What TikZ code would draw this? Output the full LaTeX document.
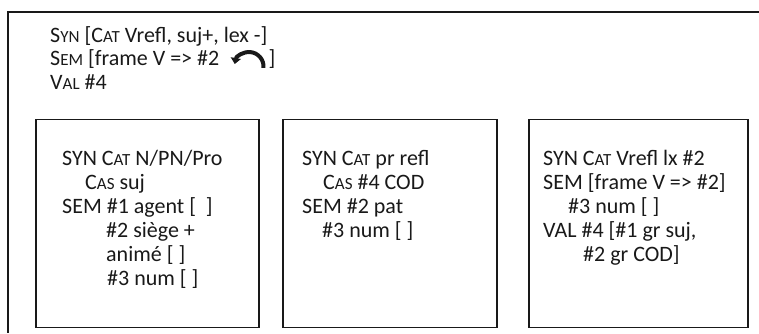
\documentclass[tikz,border=0pt]{standalone}
\usepackage{fontspec}
\setmainfont{Carlito}
\usetikzlibrary{positioning,calc,arrows.meta}
\definecolor{inkgray}{RGB}{25,25,25}

% fake small capitals: first letter full size, the rest smaller
\newcommand{\kap}[2]{#1{\fontsize{17}{24}\selectfont #2}}

\tikzset{
  feat/.style={anchor=base west, align=left, inner sep=0pt,
    font=\fontsize{22}{24}\selectfont, text=inkgray},
  avmbox/.style={draw=inkgray, line width=1.5pt, anchor=south west,
    minimum height=208pt, inner sep=0pt},
}

\begin{document}
\begin{tikzpicture}[x=1pt, y=1pt, >=Stealth]
    \useasboundingbox (0,0) rectangle (759,333);

    % Outer frame (only top and left edges show)
    \draw[inkgray, line width=2.5pt, line join=miter] (759,321) -- (8,321) -- (8,0);

    % Construction head
    \node[feat] (syn) at (50,291) {\kap{S}{YN} [\kap{C}{AT} Vrefl, suj+, lex -]};
    \node[feat] (sem) at (50,267.5) {\kap{S}{EM} [frame V => \#2};
    \node[feat] (val) at (50,244) {\kap{V}{AL} \#4};

    % Curved arrow and closing bracket
    \coordinate (arcR) at ($(sem.base east)+(44,-2.3)$);
    \draw[inkgray, line width=4pt, -{Triangle[length=6pt,width=10pt]}]
        (arcR) arc[start angle=-5, end angle=170, radius=14.5];
    \node[feat] (semend) at ($(sem.base east)+(49,0)$) {]};

    % Daughter boxes
    \node[avmbox, minimum width=223pt] (subj) at (35,5) {};
    \node[avmbox, minimum width=214pt] (refl) at (282,5) {};
    \node[avmbox, minimum width=219pt] (verb) at (528,5) {};

    % Subject (node base = baseline of the last line)
    \node[feat] (subjtxt) at ($(subj.north west)+(27,-167)$) {%
        SYN \kap{C}{AT} N/PN/Pro\\
        \hspace*{23pt}\kap{C}{AS} suj\\
        SEM \#1 agent [\ \ ]\\
        \hspace*{44pt}\#2 siège +\\
        \hspace*{44pt}animé [ ]\\
        \hspace*{45pt}\#3 num [ ]};

    % Reflexive pronoun
    \node[feat] (refltxt) at ($(refl.north west)+(20,-119)$) {%
        SYN \kap{C}{AT} pr refl\\
        \hspace*{21pt}\kap{C}{AS} \#4 COD\\
        SEM \#2 pat\\
        \hspace*{20pt}\#3 num [ ]};

    % Reflexive verb
    \node[feat] (verbtxt) at ($(verb.north west)+(15,-143)$) {%
        SYN \kap{C}{AT} Vrefl lx \#2\\
        SEM [frame V => \#2]\\
        \hspace*{25pt}\#3 num [ ]\\
        VAL \#4 [\#1 gr suj,\\
        \hspace*{40pt}\#2 gr COD]};
\end{tikzpicture}
\end{document}
